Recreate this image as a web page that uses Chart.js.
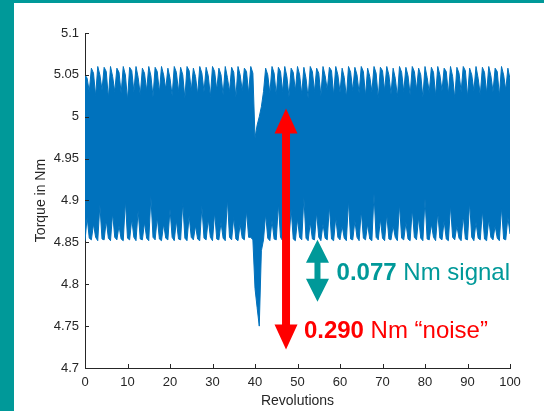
<!DOCTYPE html>
<html>
<head>
<meta charset="utf-8">
<script src="https://cdn.jsdelivr.net/npm/chart.js@4.4.1/dist/chart.umd.min.js"></script>
<style>
  html, body { margin: 0; padding: 0; }
  body { width: 544px; height: 411px; background: #009999; overflow: hidden; position: relative; }
  #panel { position: absolute; left: 14px; top: 3px; width: 530px; height: 408px; background: #fff; }
</style>
</head>
<body>
<div id="panel"><canvas id="chart" width="530" height="408"></canvas></div>
<script>
// revolutions between two samples of the envelope
const sampleStep = 0.5;

// upper edge of the torque band, Nm (one row = 5 revolutions)
const upperEnvelope = [
  5.050, 5.046, 5.030, 5.058, 5.052, 5.025, 5.060, 5.050, 5.032, 5.059,
  5.054, 5.022, 5.060, 5.048, 5.030, 5.058, 5.053, 5.028, 5.060, 5.050,
  5.020, 5.059, 5.055, 5.030, 5.060, 5.047, 5.026, 5.058, 5.052, 5.031,
  5.060, 5.049, 5.024, 5.059, 5.054, 5.029, 5.060, 5.050, 5.033, 5.058,
  5.046, 5.025, 5.060, 5.053, 5.030, 5.059, 5.050, 5.022, 5.060, 5.055,
  5.031, 5.058, 5.048, 5.027, 5.060, 5.052, 5.030, 5.059, 5.049, 5.024,
  5.060, 5.054, 5.032, 5.058, 5.050, 5.026, 5.060, 5.047, 5.030, 5.059,
  5.053, 5.023, 5.060, 5.050, 5.031, 5.058, 5.054, 5.028, 5.060, 5.052,
  4.975, 4.990, 5.000, 5.012, 5.030, 5.058, 5.050, 5.028, 5.060, 5.052,
  5.026, 5.059, 5.054, 5.030, 5.060, 5.048, 5.024, 5.058, 5.053, 5.031,
  5.060, 5.050, 5.027, 5.059, 5.046, 5.022, 5.060, 5.054, 5.030, 5.058,
  5.052, 5.025, 5.060, 5.049, 5.032, 5.059, 5.055, 5.026, 5.060, 5.050,
  5.029, 5.058, 5.047, 5.023, 5.060, 5.053, 5.031, 5.059, 5.050, 5.028,
  5.060, 5.054, 5.025, 5.058, 5.048, 5.030, 5.060, 5.052, 5.022, 5.059,
  5.055, 5.031, 5.060, 5.050, 5.027, 5.058, 5.046, 5.024, 5.060, 5.053,
  5.030, 5.059, 5.049, 5.026, 5.060, 5.054, 5.032, 5.058, 5.050, 5.023,
  5.060, 5.047, 5.029, 5.059, 5.053, 5.025, 5.060, 5.050, 5.031, 5.058,
  5.054, 5.027, 5.060, 5.048, 5.022, 5.059, 5.052, 5.030, 5.060, 5.055,
  5.024, 5.058, 5.050, 5.031, 5.060, 5.046, 5.026, 5.059, 5.053, 5.028,
  5.060, 5.049, 5.030, 5.058, 5.054, 5.025, 5.060, 5.050, 5.032, 5.058,
  5.045
];

// lower edge of the torque band, Nm
const lowerEnvelope = [
  4.852, 4.880, 4.855, 4.853, 4.872, 4.856, 4.852, 4.895, 4.854, 4.853,
  4.876, 4.855, 4.852, 4.885, 4.856, 4.853, 4.870, 4.854, 4.852, 4.900,
  4.855, 4.853, 4.878, 4.856, 4.852, 4.888, 4.854, 4.853, 4.874, 4.855,
  4.852, 4.905, 4.856, 4.853, 4.880, 4.854, 4.852, 4.872, 4.855, 4.853,
  4.890, 4.856, 4.852, 4.876, 4.854, 4.853, 4.898, 4.855, 4.852, 4.882,
  4.856, 4.853, 4.870, 4.854, 4.852, 4.893, 4.855, 4.853, 4.878, 4.856,
  4.852, 4.886, 4.854, 4.853, 4.874, 4.855, 4.852, 4.902, 4.856, 4.853,
  4.880, 4.854, 4.852, 4.872, 4.855, 4.853, 4.888, 4.856, 4.856, 4.853,
  4.795, 4.772, 4.750, 4.840, 4.853, 4.884, 4.855, 4.852, 4.876, 4.854,
  4.853, 4.896, 4.856, 4.852, 4.870, 4.855, 4.853, 4.890, 4.854, 4.852,
  4.878, 4.856, 4.853, 4.904, 4.855, 4.852, 4.874, 4.854, 4.853, 4.886,
  4.856, 4.852, 4.872, 4.855, 4.853, 4.894, 4.854, 4.852, 4.880, 4.856,
  4.853, 4.870, 4.855, 4.852, 4.900, 4.854, 4.853, 4.876, 4.856, 4.852,
  4.888, 4.855, 4.853, 4.872, 4.854, 4.852, 4.908, 4.856, 4.853, 4.878,
  4.855, 4.852, 4.884, 4.854, 4.853, 4.870, 4.856, 4.852, 4.896, 4.855,
  4.853, 4.874, 4.854, 4.852, 4.890, 4.856, 4.853, 4.880, 4.855, 4.852,
  4.902, 4.854, 4.853, 4.872, 4.856, 4.852, 4.886, 4.855, 4.853, 4.876,
  4.854, 4.852, 4.894, 4.856, 4.853, 4.870, 4.855, 4.852, 4.882, 4.854,
  4.853, 4.898, 4.856, 4.852, 4.874, 4.855, 4.853, 4.888, 4.854, 4.852,
  4.878, 4.856, 4.853, 4.870, 4.855, 4.852, 4.892, 4.854, 4.853, 4.880,
  4.860
];

const xTicks = [0, 10, 20, 30, 40, 50, 60, 70, 80, 90, 100];
const yTicks = [4.7, 4.75, 4.8, 4.85, 4.9, 4.95, 5, 5.05, 5.1];

// annotations: [revolution, bottom tip Nm, top tip Nm]
const noiseArrow = [47.3, 4.722, 5.010];
const signalArrow = [54.7, 4.779, 4.853];
// labels: [revolution, baseline Nm, bold part, normal part]
const signalLabel = [59.2, 4.805, "0.077", " Nm signal"];
const noiseLabel = [51.5, 4.736, "0.290", " Nm \u201cnoise\u201d"];

const blue = "#0072bd";
const red = "#ff0000";
const teal = "#009999";
const axisColor = "#262626";
const fontFamily = "'Liberation Sans', Arial, sans-serif";

function toPoints(values) {
  return values.map((v, i) => ({ x: i * sampleStep, y: v }));
}

function drawDoubleArrow(ctx, cx, yTop, yBot, shaft, headW, headH, color) {
  ctx.fillStyle = color;
  ctx.beginPath();
  ctx.moveTo(cx, yTop);
  ctx.lineTo(cx + headW / 2, yTop + headH);
  ctx.lineTo(cx + shaft / 2, yTop + headH);
  ctx.lineTo(cx + shaft / 2, yBot - headH);
  ctx.lineTo(cx + headW / 2, yBot - headH);
  ctx.lineTo(cx, yBot);
  ctx.lineTo(cx - headW / 2, yBot - headH);
  ctx.lineTo(cx - shaft / 2, yBot - headH);
  ctx.lineTo(cx - shaft / 2, yTop + headH);
  ctx.lineTo(cx - headW / 2, yTop + headH);
  ctx.closePath();
  ctx.fill();
}

function drawLabel(ctx, px, py, bold, normal, color) {
  ctx.fillStyle = color;
  ctx.textBaseline = "alphabetic";
  ctx.textAlign = "left";
  ctx.font = "bold 24px " + fontFamily;
  ctx.fillText(bold, px, py);
  const w = ctx.measureText(bold).width;
  ctx.font = "24px " + fontFamily;
  ctx.fillText(normal, px + w, py);
}

const overlay = {
  id: "overlay",
  afterDatasetsDraw(chart) {
    const { ctx, chartArea: a } = chart;
    const x = chart.scales.x;
    const y = chart.scales.y;
    ctx.save();

    // inward tick marks, MATLAB style
    ctx.strokeStyle = axisColor;
    ctx.lineWidth = 1;
    ctx.beginPath();
    yTicks.forEach((v) => {
      const py = Math.round(y.getPixelForValue(v)) + 0.5;
      ctx.moveTo(a.left, py);
      ctx.lineTo(a.left + 4, py);
    });
    xTicks.forEach((v) => {
      const px = Math.round(x.getPixelForValue(v)) + 0.5;
      ctx.moveTo(px, a.bottom);
      ctx.lineTo(px, a.bottom - 4);
    });
    ctx.stroke();

    drawDoubleArrow(ctx, x.getPixelForValue(noiseArrow[0]),
      y.getPixelForValue(noiseArrow[2]), y.getPixelForValue(noiseArrow[1]), 8, 23, 25, red);
    drawDoubleArrow(ctx, x.getPixelForValue(signalArrow[0]),
      y.getPixelForValue(signalArrow[2]), y.getPixelForValue(signalArrow[1]), 6, 23, 23, teal);

    drawLabel(ctx, x.getPixelForValue(signalLabel[0]), y.getPixelForValue(signalLabel[1]),
      signalLabel[2], signalLabel[3], teal);
    drawLabel(ctx, x.getPixelForValue(noiseLabel[0]), y.getPixelForValue(noiseLabel[1]),
      noiseLabel[2], noiseLabel[3], red);

    ctx.restore();
  },
};

const tickFont = { family: fontFamily, size: 13 };
const titleFont = { family: fontFamily, size: 14 };

new Chart(document.getElementById("chart").getContext("2d"), {
  type: "line",
  data: {
    datasets: [
      {
        data: toPoints(upperEnvelope),
        fill: "+1",
        backgroundColor: blue,
        borderColor: blue,
        borderWidth: 1,
        pointRadius: 0,
      },
      {
        data: toPoints(lowerEnvelope),
        fill: false,
        borderColor: blue,
        borderWidth: 1,
        pointRadius: 0,
      },
    ],
  },
  options: {
    responsive: false,
    animation: false,
    devicePixelRatio: 1,
    layout: { padding: { top: 30, right: 34, left: 0, bottom: 0 } },
    plugins: {
      legend: { display: false },
      tooltip: { enabled: false },
    },
    scales: {
      x: {
        type: "linear",
        min: 0,
        max: 100,
        afterBuildTicks: (s) => { s.ticks = xTicks.map((v) => ({ value: v })); },
        afterFit: (s) => { s.height = 43; },
        grid: { display: false, drawTicks: false },
        border: { display: true, color: axisColor, width: 1 },
        ticks: { color: axisColor, font: tickFont, padding: 7, maxRotation: 0, autoSkip: false,
          callback: (v) => String(v) },
        title: { display: true, text: "Revolutions", color: axisColor, font: titleFont,
          padding: { top: 0, bottom: 1 } },
      },
      y: {
        min: 4.7,
        max: 5.1,
        afterBuildTicks: (s) => { s.ticks = yTicks.map((v) => ({ value: v })); },
        afterFit: (s) => { s.width = 71; },
        grid: { display: false, drawTicks: false },
        border: { display: true, color: axisColor, width: 1 },
        ticks: { color: axisColor, font: tickFont, padding: 6, autoSkip: false,
          callback: (v) => String(v) },
        title: { display: true, text: "Torque in Nm", color: axisColor, font: titleFont,
          padding: { top: 19, bottom: 0 } },
      },
    },
  },
  plugins: [overlay],
});
</script>
</body>
</html>
